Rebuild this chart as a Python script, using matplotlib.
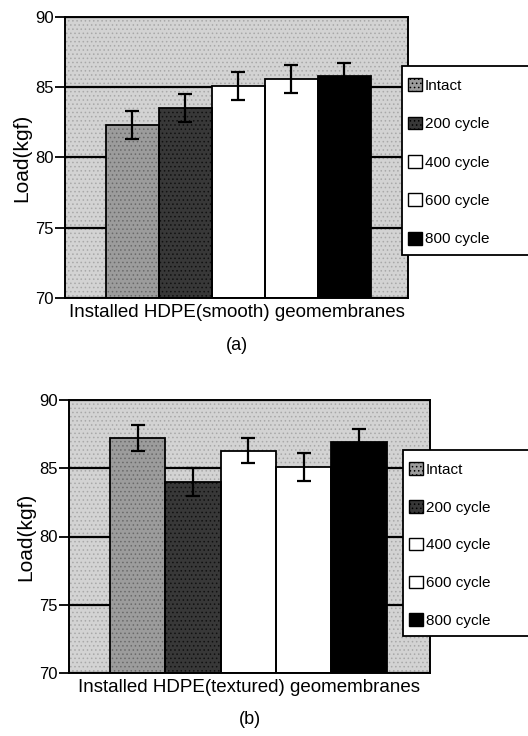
import matplotlib
matplotlib.use('Agg')
import matplotlib.pyplot as plt
from matplotlib.patches import Rectangle

plt.rcParams['font.family'] = ['Liberation Sans', 'DejaVu Sans']
plt.rcParams['hatch.linewidth'] = 0.6

series = ['Intact', '200 cycle', '400 cycle', '600 cycle', '800 cycle']
smooth_load = [82.3, 83.5, 85.1, 85.6, 85.8]
smooth_err = [1.0, 1.0, 1.0, 1.0, 0.9]
textured_load = [87.2, 84.0, 86.3, 85.1, 86.9]
textured_err = [0.95, 1.0, 0.9, 1.0, 1.0]
yticks = [70, 75, 80, 85, 90]

bar_faces = ['#9c9c9c', '#383838', 'white', 'white', 'black']
bar_hatch = ['....', '....', None, None, None]
hatch_cols = ['#6a6a6a', '#111111', 'black', 'black', 'black']


def panel(fig, rect, loads, errs, xlim, xlabel, tag, tag_y, leg_box, leg_gap):
    ax = fig.add_axes(rect)
    ax.set_facecolor('none')
    bg = Rectangle((0, 0), 1, 1, transform=ax.transAxes, facecolor='#d3d3d3',
                   hatch='....', edgecolor='#a8a8a8', lw=0, zorder=0.1)
    ax.add_patch(bg)
    ax.set_axisbelow(True)
    ax.yaxis.grid(True, color='black', lw=1.6)
    handles = []
    for i, (v, e) in enumerate(zip(loads, errs)):
        b = ax.bar(i, v - 70, bottom=70, width=1.0, color=bar_faces[i],
                   edgecolor=hatch_cols[i], hatch=bar_hatch[i], lw=0, zorder=2,
                   label=series[i])
        ax.bar(i, v - 70, bottom=70, width=1.0, color='none',
               edgecolor='black', lw=1.3, zorder=2.1)
        ax.errorbar(i, v, yerr=e, fmt='none', ecolor='black', elinewidth=1.6,
                    capsize=4.8, capthick=1.6, zorder=3)
        handles.append(b)
    ax.set_xlim(*xlim)
    ax.set_ylim(70, 90)
    ax.set_yticks(yticks)
    ax.set_xticks([])
    ax.tick_params(axis='y', length=7, width=1.3, labelsize=12, pad=1)
    for s in ax.spines.values():
        s.set_linewidth(1.4)
    ax.set_ylabel('Load(kgf)', fontsize=15, labelpad=3)
    ax.set_xlabel(xlabel, fontsize=13.5, labelpad=4)
    fig.text(rect[0] + rect[2] / 2, tag_y, tag, ha='center', va='center', fontsize=13)

    x0, y0, x1, y1 = leg_box
    fig.patches.append(Rectangle((x0 / 528, 1 - y1 / 736), (x1 - x0) / 528, (y1 - y0) / 736,
                                 transform=fig.transFigure, facecolor='white',
                                 edgecolor='black', lw=1.3, zorder=5))
    leg = fig.legend(handles=handles, labels=series, loc='upper left',
                     bbox_to_anchor=(x0 / 528, 1 - (y0 + 6) / 736), frameon=False,
                     fontsize=11, labelspacing=leg_gap, handlelength=0.9, handleheight=0.9,
                     handletextpad=0.2, borderpad=0.4, borderaxespad=0)
    leg.set_zorder(6)
    for h in leg.legend_handles:
        h.set_linewidth(1.0)
        h.set_edgecolor('black')
    return ax


fig = plt.figure(figsize=(5.28, 7.36), dpi=100)

panel(fig, [65 / 528, 1 - 298 / 736, 343 / 528, 281 / 736],
      smooth_load, smooth_err, (-1.27, 5.2),
      'Installed HDPE(smooth) geomembranes', '(a)', 1 - 345 / 736,
      (402, 66, 532, 255), 1.56)
panel(fig, [69 / 528, 1 - 673 / 736, 361 / 528, 273 / 736],
      textured_load, textured_err, (-1.24, 5.28),
      'Installed HDPE(textured) geomembranes', '(b)', 1 - 719 / 736,
      (403, 450, 532, 636), 1.52)

fig.savefig('out.png', dpi=100)
